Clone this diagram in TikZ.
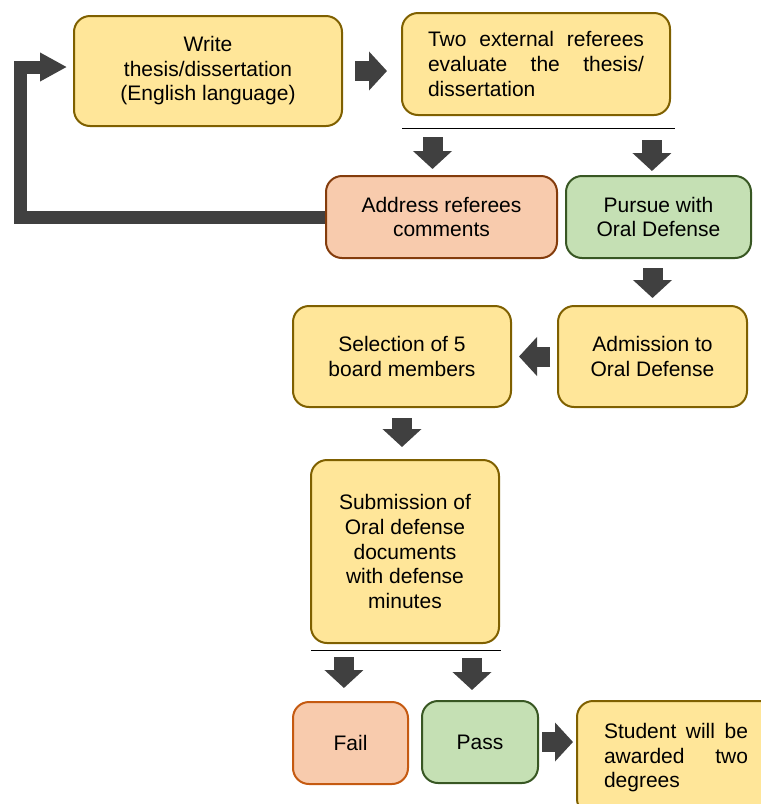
\documentclass[tikz,border=0pt]{standalone}
\usepackage{fontspec}
\setmainfont{Liberation Sans}
\usepackage{xcolor}
\usetikzlibrary{arrows.meta}
\definecolor{yellowfill}{HTML}{FFE699}
\definecolor{yellowline}{HTML}{7F6000}
\definecolor{orangefill}{HTML}{F8CBAD}
\definecolor{brownline}{HTML}{843C0C}
\definecolor{orangeline}{HTML}{C55A11}
\definecolor{greenfill}{HTML}{C5E0B4}
\definecolor{greenline}{HTML}{385723}
\definecolor{arrowgray}{HTML}{404040}
\begin{document}
\begin{tikzpicture}[x=0.75pt, y=-0.75pt,
  box/.style={draw, rounded corners=12pt, line width=1.5pt, align=center, inner sep=0pt, font=\fontsize{15.75}{18.4}\selectfont},
  yellowbox/.style={box, fill=yellowfill, draw=yellowline},
  addressbox/.style={box, fill=orangefill, draw=brownline},
  failbox/.style={box, fill=orangefill, draw=orangeline},
  greenbox/.style={box, fill=greenfill, draw=greenline},
  blockarrow/.style={draw=arrowgray, line width=15pt, -{Triangle[length=13.5pt, width=28.5pt]}},
  loopback/.style={draw=arrowgray, line width=9.75pt, -{Triangle[length=20.25pt, width=20.25pt]}}]
%		\draw[help lines] (0,0) grid (761,804);
\useasboundingbox (0,0) rectangle (761,804);
\node[yellowbox, minimum width=201pt, minimum height=82.5pt] (write) at (208,71) {Write\\thesis/dissertation\\(English language)};
\node[yellowbox, minimum width=201pt, minimum height=76.5pt, text width=162pt, align=justify] (referees) at (536,64) {Two external referees\linebreak evaluate the thesis/\linebreak dissertation};
\node[addressbox, minimum width=173.25pt, minimum height=61.5pt] (address) at (441.5,217) {Address referees\\comments};
\node[greenbox, minimum width=138.75pt, minimum height=61.5pt] (pursue) at (658.5,217) {Pursue with\\Oral Defense};
\node[yellowbox, minimum width=141.75pt, minimum height=75.75pt] (admission) at (652.5,356.5) {Admission to\\Oral Defense};
\node[yellowbox, minimum width=163.5pt, minimum height=75.75pt] (selection) at (402,356.5) {Selection of 5\\board members};
\node[yellowbox, minimum width=141pt, minimum height=137.25pt] (submission) at (405,551.5) {Submission of\\Oral defense\\documents\\with defense\\minutes};
\node[failbox, minimum width=86.25pt, minimum height=61.5pt] (fail) at (350.5,743) {Fail};
\node[greenbox, minimum width=87pt, minimum height=61.5pt] (pass) at (480,742) {Pass};
\node[yellowbox, minimum width=148.5pt, minimum height=85.5pt, text width=108pt, align=justify] (student) at (676,758) {Student will be\linebreak awarded two\linebreak degrees};
\coordinate (splitl) at (402,128);
\coordinate (splitr) at (675,128);
\coordinate (resultl) at (311,650);
\coordinate (resultr) at (501,650);
\coordinate (loopx) at (20.5,0);
\coordinate (addresstop) at ([xshift=-6.75pt]address.north);
\coordinate (pursuetop) at ([xshift=-4.9pt]pursue.north);
\coordinate (failtop) at ([xshift=-4.9pt]fail.north);
\coordinate (passtop) at ([xshift=-6pt]pass.north);
\draw[line width=0.75pt] (splitl) -- (splitr);
\draw[line width=0.75pt] (resultl) -- (resultr);
\draw[blockarrow, shorten <=9pt, shorten >=10.5pt] (write.east) -- (write.east -| referees.west);
\draw[blockarrow, shorten <=6.75pt, shorten >=4.5pt] (addresstop |- splitl) -- (addresstop);
\draw[blockarrow, shorten <=9pt, shorten >=3pt] (pursuetop |- splitl) -- (pursuetop);
\draw[blockarrow, shorten <=6.75pt, shorten >=5.25pt] (admission.north |- pursue.south) -- (admission.north);
\draw[blockarrow, shorten <=5.25pt, shorten >=5.25pt] (admission.west) -- (selection.east);
\draw[blockarrow, shorten <=7.5pt, shorten >=9pt] (selection.south) -- (selection.south |- submission.north);
\draw[blockarrow, shorten <=5.25pt, shorten >=9.75pt] (failtop |- resultl) -- (failtop);
\draw[blockarrow, shorten <=6pt, shorten >=7.5pt] (passtop |- resultl) -- (passtop);
\draw[blockarrow, shorten <=2.25pt, shorten >=2.25pt] (pass.east) -- (pass.east -| student.west);
\draw[loopback, shorten >=4.5pt] (address.west) -- (address.west -| loopx) |- ([yshift=3pt]write.west);
\end{tikzpicture}
\end{document}
